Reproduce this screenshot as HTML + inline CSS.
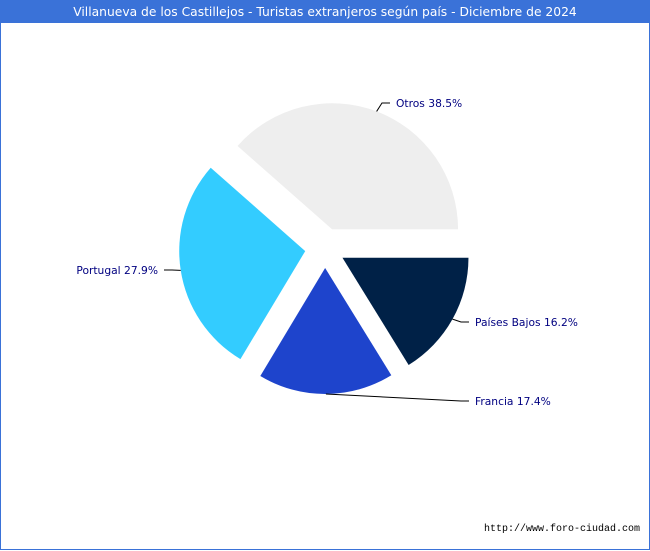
<!DOCTYPE html>
<html><head><meta charset="utf-8"><style>
body{margin:0;background:#fff;}
#wrap{position:relative;width:648px;height:548px;border:1px solid #3a72d8;background:#fff;font-family:"DejaVu Sans","Liberation Sans",sans-serif;}
#title{position:absolute;left:0;top:0;width:648px;height:22px;background:#3a72d8;color:#fff;font-size:12.3px;line-height:22px;text-align:center;}
svg{position:absolute;left:0;top:0;}
</style></head><body>
<div id="wrap">
<div id="title">Villanueva de los Castillejos - Turistas extranjeros según país - Diciembre de 2024</div>
<svg id="chart" width="650" height="550"></svg>
<div style="position:absolute;right:9px;top:523px;font-size:10px;font-family:'Liberation Mono',monospace;color:#000">http://www.foro-ciudad.com</div>
</div>
<script>
const categories=["Otros","Portugal","Francia","Países Bajos"];
const values=[38.5,27.9,17.4,16.2];
const colors=["#eeeeee","#33ccff","#1e44cc","#002147"];
const svg=document.getElementById('chart');
const NS="http://www.w3.org/2000/svg";
const cx=324,cy=247,r=126,off=20;
const total=values.reduce((a,b)=>a+b,0);
const labelPos=[[395,103,'start'],[157,270,'end'],[474,401,'start'],[474,322,'start']];
let a0=0;
values.forEach((v,i)=>{
  const sweep=v/total*2*Math.PI, a1=a0+sweep, mid=(a0+a1)/2;
  const ox=cx+off*Math.cos(mid), oy=cy-off*Math.sin(mid);
  const x0=ox+r*Math.cos(a0),y0=oy-r*Math.sin(a0),x1=ox+r*Math.cos(a1),y1=oy-r*Math.sin(a1);
  const p=document.createElementNS(NS,'path');
  p.setAttribute('d',`M${ox},${oy}L${x0},${y0}A${r},${r} 0 ${sweep>Math.PI?1:0} 0 ${x1},${y1}Z`);
  p.setAttribute('fill',colors[i]);
  
  
  svg.appendChild(p);
  const ex=ox+r*Math.cos(mid),ey=oy-r*Math.sin(mid);
  const [lx,ly,anc]=labelPos[i];
  const ln=document.createElementNS(NS,'polyline');
  const kx=anc==='start'?lx-6:lx+6;
  const mx=anc==='start'?kx-8:kx+8;
  ln.setAttribute('points',`${ex},${ey} ${mx},${ly-1} ${kx},${ly-1}`);
  ln.setAttribute('fill','none');ln.setAttribute('stroke','#000');ln.setAttribute('stroke-width','1');
  
  
  svg.appendChild(ln);
  const t=document.createElementNS(NS,'text');
  t.setAttribute('x',lx);t.setAttribute('y',ly+3);t.setAttribute('text-anchor',anc);
  t.setAttribute('font-size','10.7');t.setAttribute('fill','#000080');
  t.setAttribute('font-family','DejaVu Sans, Liberation Sans, sans-serif');
  t.textContent=categories[i]+' '+v.toFixed(1)+'%';
  
  
  svg.appendChild(t);
  a0=a1;
});
</script>
</body></html>
